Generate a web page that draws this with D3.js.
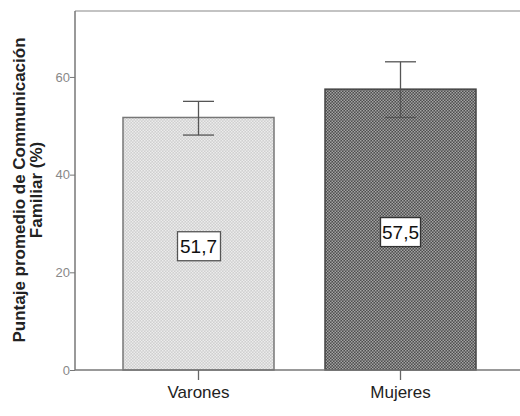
<!DOCTYPE html>
<html>
<head>
<meta charset="utf-8">
<script src="https://cdn.jsdelivr.net/npm/d3@7"></script>
<style>
  body { margin: 0; background: #fff; }
  svg text { font-family: Arial, "Liberation Sans", sans-serif; }
</style>
</head>
<body>
<div id="chart"></div>
<script>
// Data
const categories = ["Varones", "Mujeres"];
const means = [51.7, 57.5];
const lowerCI = [48.1, 51.7];
const upperCI = [55.0, 63.1];
const valueLabels = ["51,7", "57,5"];
const yTicks = [0, 20, 40, 60];

const width = 520, height = 416;
const margin = { top: 11, right: -10, bottom: 46, left: 75 };
const innerW = width - margin.left - margin.right;
const innerH = height - margin.top - margin.bottom;

const svg = d3.select("#chart")
    .append("svg")
    .attr("width", width)
    .attr("height", height);

// Checker patterns for the bars
const defs = svg.append("defs");
const patterns = [
    { id: "patVarones", a: "#cfcfcf", b: "#ececec" },
    { id: "patMujeres", a: "#4e4e4e", b: "#a2a2a2" }
];
patterns.forEach(p => {
    const pat = defs.append("pattern")
        .attr("id", p.id)
        .attr("patternUnits", "userSpaceOnUse")
        .attr("width", 3)
        .attr("height", 3);
    pat.append("rect").attr("width", 3).attr("height", 3).attr("fill", p.a);
    pat.append("rect").attr("width", 1.5).attr("height", 1.5).attr("fill", p.b);
    pat.append("rect").attr("x", 1.5).attr("y", 1.5).attr("width", 1.5).attr("height", 1.5).attr("fill", p.b);
});

const g = svg.append("g")
    .attr("transform", `translate(${margin.left}, ${margin.top})`);

const x = d3.scaleBand()
    .domain(categories)
    .range([48, 401])
    .paddingInner(51 / 202)
    .paddingOuter(0);

const y = d3.scaleLinear()
    .domain([0, 73.5])
    .range([innerH, 0]);

// Frame (top line)
g.append("line")
    .attr("x1", 0).attr("x2", innerW)
    .attr("y1", 0).attr("y2", 0)
    .attr("stroke", "#888").attr("stroke-width", 1.2);

// Bars
g.selectAll(".bar")
    .data(categories)
    .enter()
    .append("rect")
    .attr("class", "bar")
    .attr("x", d => x(d))
    .attr("y", (d, i) => y(means[i]))
    .attr("width", x.bandwidth())
    .attr("height", (d, i) => innerH - y(means[i]))
    .attr("fill", (d, i) => `url(#${patterns[i].id})`)
    .attr("stroke", (d, i) => i === 0 ? "#777" : "#444")
    .attr("stroke-width", 1.5);

// Error bars
const capW = 31;
const eb = g.selectAll(".err")
    .data(categories)
    .enter()
    .append("g")
    .attr("class", "err")
    .attr("stroke", "#555")
    .attr("stroke-width", 1.3);

eb.append("line")
    .attr("x1", d => x(d) + x.bandwidth() / 2)
    .attr("x2", d => x(d) + x.bandwidth() / 2)
    .attr("y1", (d, i) => y(lowerCI[i]))
    .attr("y2", (d, i) => y(upperCI[i]));
eb.append("line")
    .attr("x1", d => x(d) + x.bandwidth() / 2 - capW / 2)
    .attr("x2", d => x(d) + x.bandwidth() / 2 + capW / 2)
    .attr("y1", (d, i) => y(upperCI[i]))
    .attr("y2", (d, i) => y(upperCI[i]));
eb.append("line")
    .attr("x1", d => x(d) + x.bandwidth() / 2 - capW / 2)
    .attr("x2", d => x(d) + x.bandwidth() / 2 + capW / 2)
    .attr("y1", (d, i) => y(lowerCI[i]))
    .attr("y2", (d, i) => y(lowerCI[i]));

// Value labels in boxes
const lbl = g.selectAll(".vlabel")
    .data(categories)
    .enter()
    .append("g")
    .attr("class", "vlabel")
    .attr("transform", (d, i) => `translate(${x(d) + x.bandwidth() / 2}, ${y(means[i] / 2) + 2})`);

lbl.append("rect")
    .attr("x", (d, i) => i === 0 ? -21 : -20)
    .attr("y", -14)
    .attr("width", (d, i) => i === 0 ? 43 : 40)
    .attr("height", 29)
    .attr("fill", "#fff")
    .attr("stroke", (d, i) => i === 0 ? "#555" : "#333")
    .attr("stroke-width", 1.3);

lbl.append("text")
    .attr("text-anchor", "middle")
    .attr("y", 7)
    .attr("font-size", 19)
    .attr("fill", "#111")
    .text((d, i) => valueLabels[i]);

// Y axis
const yAxis = g.append("g")
    .call(d3.axisLeft(y).tickValues(yTicks).tickSize(5).tickSizeOuter(0).tickFormat(d3.format("d")));
yAxis.select(".domain").attr("stroke", "#777").attr("stroke-width", 1.5)
    .attr("d", `M0,${innerH}V0`);
yAxis.selectAll(".tick line").attr("stroke", "#777");
yAxis.selectAll(".tick text")
    .attr("x", -5)
    .attr("font-size", 13)
    .attr("fill", "#888");

// X axis
const xAxis = g.append("g")
    .attr("transform", `translate(0, ${innerH})`)
    .call(d3.axisBottom(x).tickSize(10).tickSizeOuter(0));
xAxis.select(".domain").attr("stroke", "#777").attr("stroke-width", 1.5)
    .attr("d", `M0,0H${innerW}`);
xAxis.selectAll(".tick line").attr("stroke", "#666").attr("stroke-width", 1.3);
xAxis.selectAll(".tick text")
    .attr("y", 16)
    .attr("font-size", 17)
    .attr("fill", "#222");

// Y axis title (two lines)
const yTitle = svg.append("text")
    .attr("transform", `translate(25, 190) rotate(-90)`)
    .attr("text-anchor", "middle")
    .attr("font-size", 17)
    .attr("font-weight", "bold")
    .attr("fill", "#222");
yTitle.append("tspan").attr("x", 0).attr("dy", 0).text("Puntaje promedio de Communicación");
yTitle.append("tspan").attr("x", 0).attr("dy", 17).text("Familiar (%)");
</script>
</body>
</html>
